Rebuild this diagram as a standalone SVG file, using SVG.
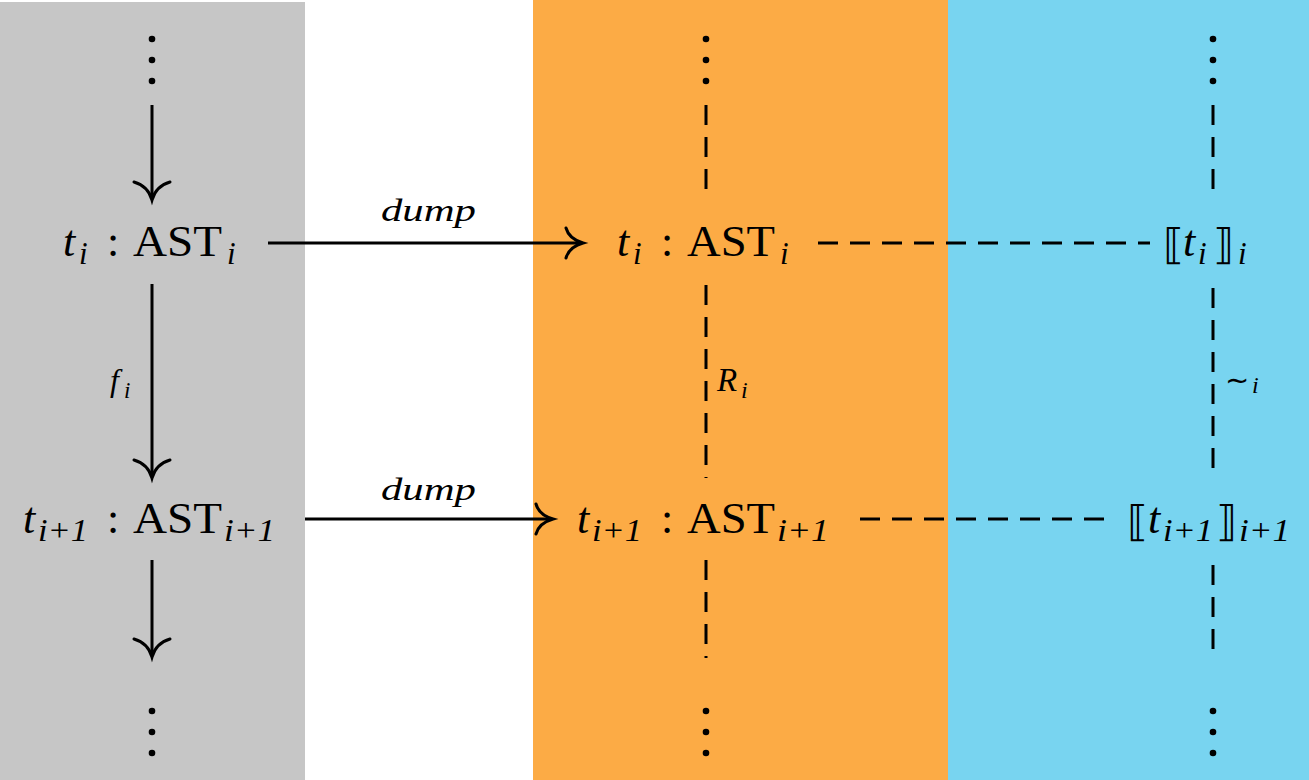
<svg xmlns="http://www.w3.org/2000/svg" width="1309" height="780" viewBox="0 0 1309 780">
<style>
.m{font-family:"Liberation Serif",serif;font-style:italic;fill:#000}
.r{font-family:"Liberation Serif",serif;font-style:normal;fill:#000}
.b{font-family:"DejaVu Sans",sans-serif;font-style:normal;fill:#000}
.big{font-size:44px}
.sub{font-size:31px}
.lbl{font-size:31px}
.ln{stroke:#000;stroke-width:3;fill:none}
.dash{stroke:#000;stroke-width:3;fill:none;stroke-dasharray:20 12}
.head{stroke:#000;stroke-width:3;fill:none;stroke-linecap:round}
</style>
<g id="backgrounds">
<rect x="0" y="2" width="305" height="778" fill="#c6c6c6"/>
<rect x="533" y="0" width="415" height="780" fill="#fcab45"/>
<rect x="948" y="0" width="361" height="780" fill="#78d4f0"/>
</g>
<g id="dots">
<circle cx="152" cy="39" r="3.3"/><circle cx="152" cy="60" r="3.3"/><circle cx="152" cy="81" r="3.3"/>
<circle cx="706" cy="39" r="3.3"/><circle cx="706" cy="60" r="3.3"/><circle cx="706" cy="81" r="3.3"/>
<circle cx="1213" cy="39" r="3.3"/><circle cx="1213" cy="60" r="3.3"/><circle cx="1213" cy="81" r="3.3"/>
<circle cx="152" cy="711" r="3.3"/><circle cx="152" cy="732" r="3.3"/><circle cx="152" cy="753" r="3.3"/>
<circle cx="706" cy="711" r="3.3"/><circle cx="706" cy="732" r="3.3"/><circle cx="706" cy="753" r="3.3"/>
<circle cx="1213" cy="711" r="3.3"/><circle cx="1213" cy="732" r="3.3"/><circle cx="1213" cy="753" r="3.3"/>
</g>
<g id="connectors">
<line class="ln" x1="152" y1="105" x2="152" y2="199"/>
<path class="head" d="M134,182 Q148,186 152,200 Q156,186 170,182"/>
<line class="ln" x1="152" y1="284" x2="152" y2="477"/>
<path class="head" d="M134,460 Q148,464 152,478 Q156,464 170,460"/>
<line class="ln" x1="152" y1="560" x2="152" y2="656"/>
<path class="head" d="M134,639 Q148,643 152,657 Q156,643 170,639"/>
<line class="ln" x1="268" y1="243" x2="582" y2="243"/>
<path class="head" d="M566,228 Q569,239 583,243 Q569,247 566,258"/>
<line class="ln" x1="305" y1="519" x2="552" y2="519"/>
<path class="head" d="M536,504 Q539,515 553,519 Q539,523 536,534"/>
<line class="dash" x1="706" y1="105" x2="706" y2="200"/>
<line class="dash" x1="706" y1="285" x2="706" y2="478"/>
<line class="dash" x1="706" y1="560" x2="706" y2="658"/>
<line class="dash" x1="1213" y1="105" x2="1213" y2="200"/>
<line class="dash" x1="1213" y1="288" x2="1213" y2="471"/>
<line class="dash" x1="1213" y1="565" x2="1213" y2="651"/>
<line class="dash" x1="818" y1="243" x2="1150" y2="243"/>
<line class="dash" x1="860" y1="519" x2="1105" y2="519"/>
</g>
<g id="edge-labels">
<text class="m lbl" x="381" y="221" textLength="95" lengthAdjust="spacingAndGlyphs">dump</text>
<text class="m lbl" x="381" y="500" textLength="95" lengthAdjust="spacingAndGlyphs">dump</text>
<text class="m" x="110" y="391" font-size="32">f</text>
<text class="m" x="124" y="398" font-size="23">i</text>
<text class="m" x="717" y="391" font-size="33">R</text>
<text class="m" x="741" y="398" font-size="24">i</text>
<text class="b" x="1225" y="390" font-size="29">∼</text>
<text class="m" x="1252" y="393" font-size="24">i</text>
</g>
<g id="node-left-1">
<text class="m big" x="63" y="256">t</text>
<text class="m sub" x="79" y="264">i</text>
<text class="r big" x="107" y="256">:</text>
<text class="r big" x="133" y="256" textLength="89" lengthAdjust="spacingAndGlyphs">AST</text>
<text class="m sub" x="227" y="264">i</text>
</g>
<g id="node-left-2">
<text class="m big" x="23" y="533">t</text>
<text class="m sub" x="38" y="541" textLength="50" lengthAdjust="spacingAndGlyphs">i+1</text>
<text class="r big" x="107" y="533">:</text>
<text class="r big" x="133" y="533" textLength="89" lengthAdjust="spacingAndGlyphs">AST</text>
<text class="m sub" x="224" y="541" textLength="51" lengthAdjust="spacingAndGlyphs">i+1</text>
</g>
<g id="node-mid-1">
<text class="m big" x="617" y="256">t</text>
<text class="m sub" x="633" y="264">i</text>
<text class="r big" x="661" y="256">:</text>
<text class="r big" x="687" y="256" textLength="88" lengthAdjust="spacingAndGlyphs">AST</text>
<text class="m sub" x="780" y="264">i</text>
</g>
<g id="node-mid-2">
<text class="m big" x="577" y="533">t</text>
<text class="m sub" x="592" y="541" textLength="50" lengthAdjust="spacingAndGlyphs">i+1</text>
<text class="r big" x="661" y="533">:</text>
<text class="r big" x="687" y="533" textLength="88" lengthAdjust="spacingAndGlyphs">AST</text>
<text class="m sub" x="777" y="541" textLength="52" lengthAdjust="spacingAndGlyphs">i+1</text>
</g>
<g id="node-right-1">
<text class="b" x="1163" y="259" font-size="42">⟦</text>
<text class="m big" x="1183" y="256">t</text>
<text class="m sub" x="1198" y="264">i</text>
<text class="b" x="1213" y="259" font-size="42">⟧</text>
<text class="m sub" x="1238" y="264">i</text>
</g>
<g id="node-right-2">
<text class="b" x="1127" y="536" font-size="42">⟦</text>
<text class="m big" x="1148" y="533">t</text>
<text class="m sub" x="1163" y="541" textLength="50" lengthAdjust="spacingAndGlyphs">i+1</text>
<text class="b" x="1216" y="536" font-size="42">⟧</text>
<text class="m sub" x="1239" y="541" textLength="51" lengthAdjust="spacingAndGlyphs">i+1</text>
</g>
</svg>
